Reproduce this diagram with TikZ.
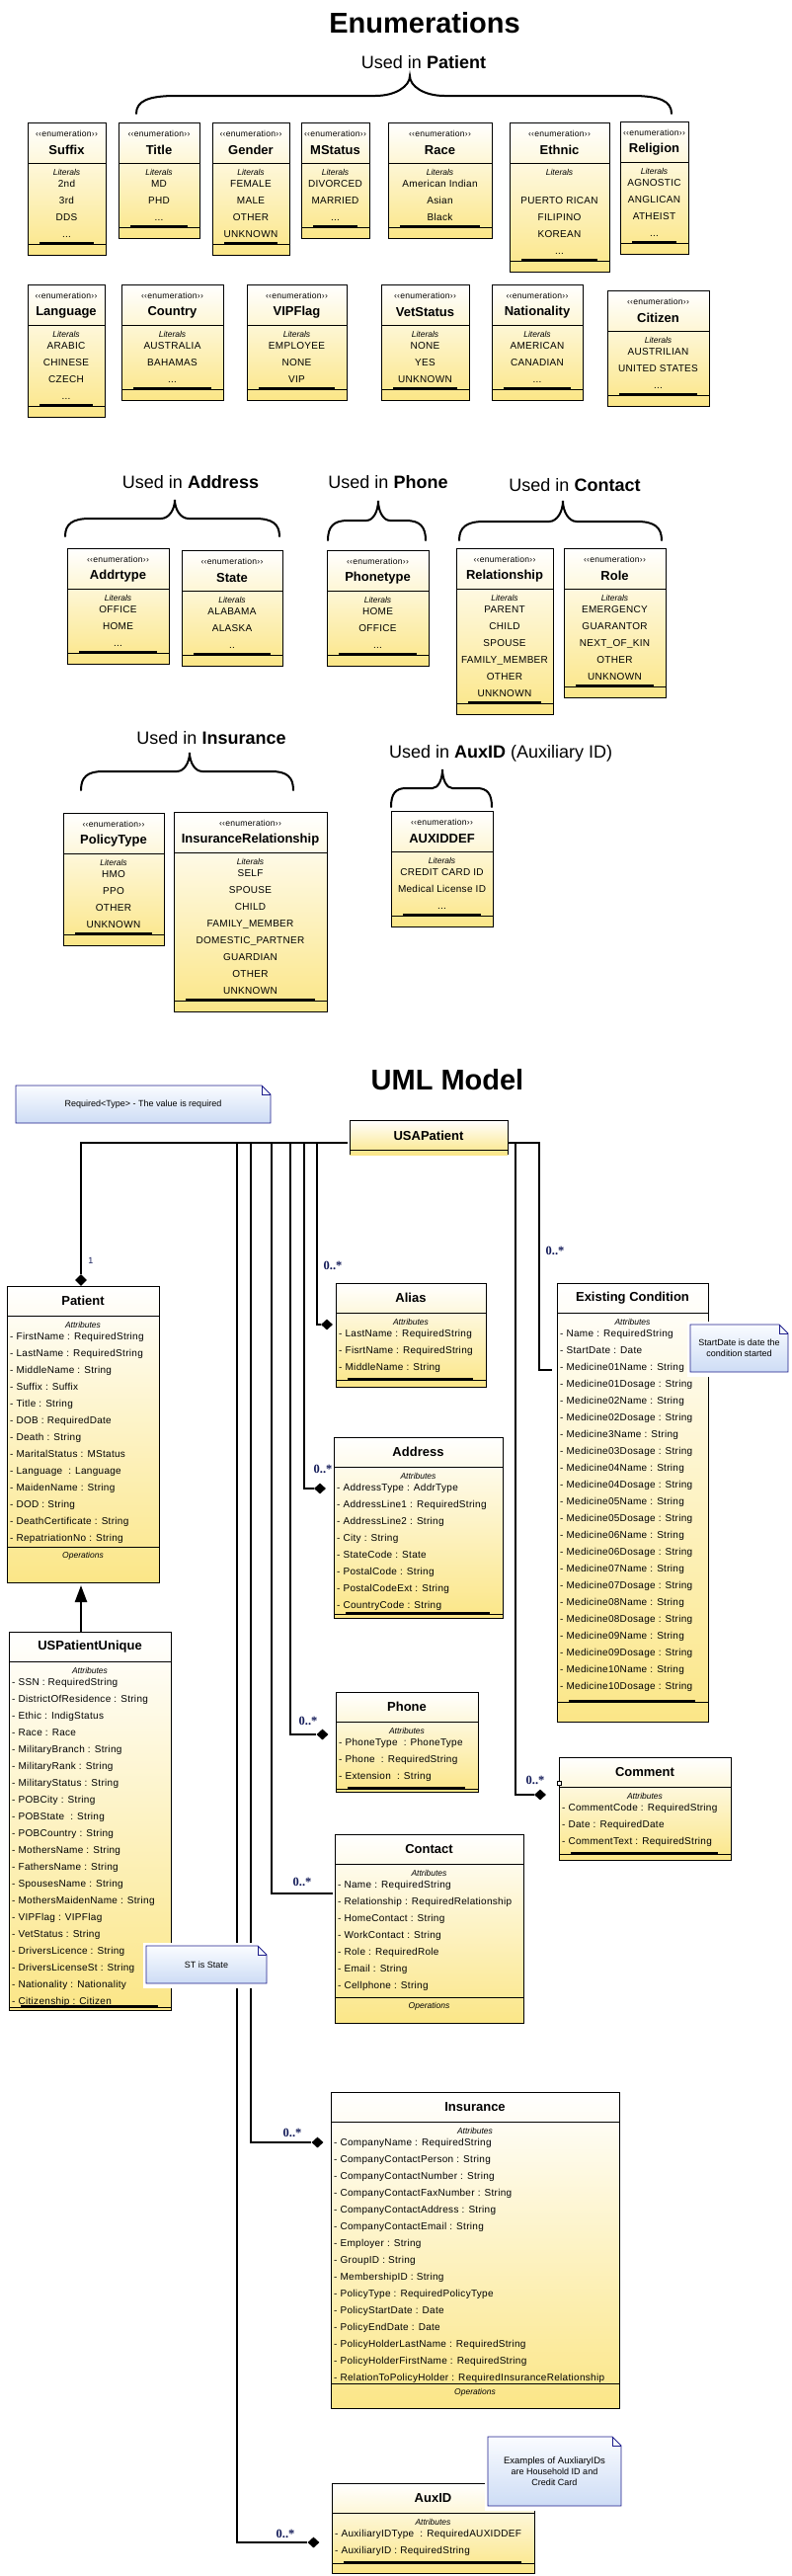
\documentclass[tikz,border=0pt]{standalone}
\usepackage{fontspec}
\setmainfont{Liberation Sans}
\newfontfamily\attrf[LetterSpace=3]{Liberation Sans}
\newfontfamily\multf{Liberation Serif}
\usetikzlibrary{shapes.geometric,arrows.meta}
\definecolor{umly}{RGB}{251,230,135}
\definecolor{notetop}{RGB}{250,252,255}
\definecolor{notebot}{RGB}{205,220,245}
\definecolor{noteline}{RGB}{30,30,140}
\definecolor{multc}{RGB}{20,28,90}
\newcommand\eldots{...}
\newcommand\twodots{..}
\tikzset{
 classbox/.style={draw=black, line width=0.9pt, top color=white, bottom color=umly, inner sep=0pt, outer sep=0pt},
 stereo/.style={font=\attrf\fontsize{8.6}{9}\selectfont, inner sep=0pt},
 cname/.style={font=\fontsize{13}{14}\selectfont\bfseries, inner sep=0pt},
 comp/.style={font=\fontsize{8.5}{9}\selectfont\itshape, inner sep=0pt},
 lit/.style={font=\attrf\fontsize{10}{11}\selectfont, inner sep=0pt},
 attr/.style={font=\attrf\fontsize{10}{11}\selectfont, inner sep=0pt},
 conn/.style={line width=2.4pt},
 diam/.style={diamond, fill=black, inner sep=0pt, minimum width=12pt, minimum height=11pt},
 mult/.style={font=\multf\bfseries\fontsize{12.5}{13}\selectfont, text=multc, inner sep=0pt},
 notetext/.style={font=\fontsize{9}{11}\selectfont, align=center, inner sep=0pt},
 notebody/.style={top color=notetop, bottom color=notebot, draw=noteline, line width=0.9pt},
 bracepath/.style={line width=2pt, line cap=round},
 heading/.style={font=\fontsize{29}{30}\selectfont\bfseries, inner sep=0pt},
 used/.style={font=\fontsize{18}{20}\selectfont, inner sep=0pt},
}
% enumeration box: id, x1, x2, top, name, items
\newcommand\enumbox[6]{%
 \foreach \itm [count=\i] in {#6} {\xdef\ebn{\i}}%
 \pgfmathsetmacro\ebhb{#4+41}%
 \pgfmathsetmacro\ebbar{#4+41+21+17*(\ebn-1)+10}%
 \pgfmathsetmacro\ebbot{\ebbar+11}%
 \pgfmathsetmacro\ebw{#3-#2}%
 \pgfmathsetmacro\ebh{\ebbot-#4}%
 \pgfmathsetmacro\ebxc{(#2+#3)/2}%
 \node[classbox, minimum width=\ebw pt, minimum height=\ebh pt, anchor=north west] (#1) at (#2,#4) {};
 \draw[line width=0.9pt] (#2,\ebhb) -- (#3,\ebhb);
 \draw[line width=0.9pt] (#2,\ebbar) -- (#3,\ebbar);
 \fill ({#2+12},\ebbar) rectangle ({#3-12},{\ebbar-2.5});
 \begin{scope}
  \clip (#2,#4) rectangle (#3,\ebhb);
  \node[stereo] (#1-st) at (\ebxc,{#4+11}) {‹‹enumeration››};
 \end{scope}
 \node[cname] (#1-nm) at (\ebxc,{#4+28}) {#5};
 \node[comp] (#1-lit) at (\ebxc,{\ebhb+9}) {Literals};
 \foreach \itm [count=\i] in {#6} {\node[lit, anchor=base] (#1-\i) at (\ebxc,{\ebhb+21+17*(\i-1)+3.5}) {\itm};}
}
% uml class: id, x1, x2, top, name, items, barY, bottomY, type b|o
\newcommand\umlclass[9]{%
 \pgfmathsetmacro\ucw{#3-#2}%
 \pgfmathsetmacro\uch{#8-#4}%
 \pgfmathsetmacro\uchd{#4+30}%
 \pgfmathsetmacro\ucxc{(#2+#3)/2}%
 \node[classbox, minimum width=\ucw pt, minimum height=\uch pt, anchor=north west] (#1) at (#2,#4) {};
 \draw[line width=0.9pt] (#2,\uchd) -- (#3,\uchd);
 \node[cname] (#1-nm) at (\ucxc,{#4+15}) {#5};
 \node[comp] (#1-att) at (\ucxc,{\uchd+9}) {Attributes};
 \foreach \itm [count=\i] in {#6} {\node[attr, anchor=base west] (#1-\i) at ({#2+3},{\uchd+21+17*(\i-1)+3.5}) {\itm};}
 \draw[line width=0.9pt] (#2,#7) -- (#3,#7);
 \if b#9
  \fill ({#2+12},#7) rectangle ({#3-13},{#7-2.5});
 \else
  \node[comp] (#1-ops) at (\ucxc,{#7+9}) {Operations};
 \fi
}
% note: id, x1, y1, x2, y2, text
\newcommand\notebox[6]{%
 \fill[white] ({#2-3},{#3-3}) rectangle ({#4+3},{#5+5});
 \shadedraw[notebody] (#2,#3) -- ({#4-9},#3) -- (#4,{#3+9}) -- (#4,#5) -- (#2,#5) -- cycle;
 \draw[noteline, line width=0.9pt] ({#4-9},#3) -- ({#4-9},{#3+9}) -- (#4,{#3+9});
 \node[notetext] (#1) at ({(#2+#4)/2},{(#3+#5)/2}) {#6};
}
% brace: x1, x2, tipx, ytop, ytip, yend, curl, tipw
\newcommand\ubrace[8]{%
 \draw[bracepath] (#1,#6) .. controls (#1,{#4+(#6-#4)*0.3}) and ({#1+#7*0.3},#4) .. ({#1+#7},#4)
  -- ({#3-#8},#4) .. controls ({#3-#8*0.4},#4) and (#3,{#4-(#4-#5)*0.5}) .. (#3,#5)
  .. controls (#3,{#4-(#4-#5)*0.5}) and ({#3+#8*0.4},#4) .. ({#3+#8},#4)
  -- ({#2-#7},#4) .. controls ({#2-#7*0.3},#4) and (#2,{#4+(#6-#4)*0.3}) .. (#2,#6);
}
\begin{document}
\begin{tikzpicture}[x=1pt,y=-1pt]
\useasboundingbox (0,0) rectangle (802,2608);
\fill[white] (0,0) rectangle (802,2608);

% ---------------- Enumerations ----------------
\node[heading] (tEnum) at (430,23) {Enumerations};
\node[used] (uPatient) at (429,63) {Used in \textbf{Patient}};
\ubrace{138}{680}{415}{97}{77}{115}{40}{35}

\enumbox{Suffix}{28}{107}{124}{Suffix}{2nd,3rd,DDS,\eldots}
\enumbox{Title}{120}{202}{124}{Title}{MD,PHD,\eldots}
\enumbox{Gender}{215}{293}{124}{Gender}{FEMALE,MALE,OTHER,UNKNOWN}
\enumbox{MStatus}{305}{374}{124}{MStatus}{DIVORCED,MARRIED,\eldots}
\enumbox{Race}{393}{498}{124}{Race}{American Indian,Asian,Black}
\enumbox{Ethnic}{516}{617}{124}{Ethnic}{{},PUERTO RICAN,FILIPINO,KOREAN,\eldots}
\enumbox{Religion}{628}{697}{123}{Religion}{AGNOSTIC,ANGLICAN,ATHEIST,\eldots}

\enumbox{Language}{28}{106}{288}{Language}{ARABIC,CHINESE,CZECH,\eldots}
\enumbox{Country}{123}{226}{288}{Country}{AUSTRALIA,BAHAMAS,\eldots}
\enumbox{VIPFlag}{250}{351}{288}{VIPFlag}{EMPLOYEE,NONE,VIP}
\enumbox{VetStatus}{386}{475}{288}{VetStatus}{NONE,YES,UNKNOWN}
\enumbox{Nationality}{498}{590}{288}{Nationality}{AMERICAN,CANADIAN,\eldots}
\enumbox{Citizen}{615}{718}{294}{Citizen}{AUSTRILIAN,UNITED STATES,\eldots}

\node[used] (uAddress) at (193,488) {Used in \textbf{Address}};
\node[used] (uPhone) at (393,488) {Used in \textbf{Phone}};
\node[used] (uContact) at (582,491) {Used in \textbf{Contact}};
\ubrace{66}{283}{177}{525}{506}{543}{25}{14}
\ubrace{332}{431}{383}{527}{507}{547}{20}{12}
\ubrace{465}{670}{570}{528}{507}{547}{25}{14}

\enumbox{Addrtype}{68}{171}{555}{Addrtype}{OFFICE,HOME,\eldots}
\enumbox{State}{184}{286}{557}{State}{ALABAMA,ALASKA,\twodots}
\enumbox{Phonetype}{331}{434}{557}{Phonetype}{HOME,OFFICE,\eldots}
\enumbox{Relationship}{462}{560}{555}{Relationship}{PARENT,CHILD,SPOUSE,FAMILY\_MEMBER,OTHER,UNKNOWN}
\enumbox{Role}{571}{674}{555}{Role}{EMERGENCY,GUARANTOR,NEXT\_OF\_KIN,OTHER,UNKNOWN}

\node[used] (uInsurance) at (214,747) {Used in \textbf{Insurance}};
\node[used, anchor=west] (uAuxID) at (394,763) {Used in \textbf{AuxID} (Auxiliary ID)};
\ubrace{82}{297}{192}{781}{762}{800}{22}{13}
\ubrace{396}{498}{448}{798}{779}{817}{15}{10}

\enumbox{PolicyType}{64}{166}{823}{PolicyType}{HMO,PPO,OTHER,UNKNOWN}
\enumbox{InsRel}{176}{331}{822}{InsuranceRelationship}{SELF,SPOUSE,CHILD,FAMILY\_MEMBER,DOMESTIC\_PARTNER,GUARDIAN,OTHER,UNKNOWN}
\enumbox{AUXIDDEF}{396}{499}{821}{AUXIDDEF}{CREDIT CARD ID,Medical License ID,\eldots}

% ---------------- UML Model ----------------
\node[heading] (tUML) at (453,1093) {UML Model};
\notebox{nReq}{16}{1099}{274}{1137}{Required<Type> - The value is required}

% USAPatient
\node[classbox, draw=none, minimum width=160pt, minimum height=35pt, anchor=north west] (USAPatient) at (354,1134) {};
\draw[line width=0.9pt] (354,1169) -- (354,1134) -- (514,1134) -- (514,1169);
\draw[line width=0.9pt] (354,1164) -- (514,1164);
\node[cname] (USAPatient-nm) at (434,1150) {USAPatient};

% classes
\umlclass{Patient}{7}{161}{1302}{Patient}{- FirstName : RequiredString,- LastName : RequiredString,- MiddleName : String,- Suffix : Suffix,- Title : String,- DOB : RequiredDate,- Death : String,- MaritalStatus : MStatus,- Language\ \ : Language,- MaidenName : String,- DOD : String,- DeathCertificate : String,- RepatriationNo : String}{1566}{1602}{o}

\umlclass{USPU}{9}{173}{1652}{USPatientUnique}{- SSN : RequiredString,- DistrictOfResidence : String,- Ethic : IndigStatus,- Race : Race,- MilitaryBranch : String,- MilitaryRank : String,- MilitaryStatus : String,- POBCity : String,- POBState\ \ : String,- POBCountry : String,- MothersName : String,- FathersName : String,- SpousesName : String,- MothersMaidenName : String,- VIPFlag : VIPFlag,- VetStatus : String,- DriversLicence : String,- DriversLicenseSt : String,- Nationality : Nationality,- Citizenship : Citizen}{2032}{2035}{b}

\umlclass{Alias}{340}{492}{1299}{Alias}{- LastName : RequiredString,- FisrtName : RequiredString,- MiddleName : String}{1397}{1404}{b}

\umlclass{Address}{338}{509}{1455}{Address}{- AddressType : AddrType,- AddressLine1 : RequiredString,- AddressLine2 : String,- City : String,- StateCode : State,- PostalCode : String,- PostalCodeExt : String,- CountryCode : String}{1634}{1638}{b}

\umlclass{ExCond}{564}{717}{1299}{Existing Condition}{- Name : RequiredString,- StartDate : Date,- Medicine01Name : String,- Medicine01Dosage : String,- Medicine02Name : String,- Medicine02Dosage : String,- Medicine3Name : String,- Medicine03Dosage : String,- Medicine04Name : String,- Medicine04Dosage : String,- Medicine05Name : String,- Medicine05Dosage : String,- Medicine06Name : String,- Medicine06Dosage : String,- Medicine07Name : String,- Medicine07Dosage : String,- Medicine08Name : String,- Medicine08Dosage : String,- Medicine09Name : String,- Medicine09Dosage : String,- Medicine10Name : String,- Medicine10Dosage : String}{1723}{1743}{b}

\umlclass{Phone}{340}{484}{1713}{Phone}{- PhoneType\ \ : PhoneType,- Phone\ \ : RequiredString,- Extension\ \ : String}{1811}{1814}{b}

\umlclass{Comment}{566}{740}{1779}{Comment}{- CommentCode : RequiredString,- Date : RequiredDate,- CommentText : RequiredString}{1877}{1883}{b}
\draw[line width=0.6pt, fill=white] (564.5,1803) rectangle (568.5,1807);

\umlclass{Contact}{339}{530}{1857}{Contact}{- Name : RequiredString,- Relationship : RequiredRelationship,- HomeContact : String,- WorkContact : String,- Role : RequiredRole,- Email : String,- Cellphone : String}{2022}{2048}{o}

\umlclass{Insurance}{335}{627}{2118}{Insurance}{- CompanyName : RequiredString,- CompanyContactPerson : String,- CompanyContactNumber : String,- CompanyContactFaxNumber : String,- CompanyContactAddress : String,- CompanyContactEmail : String,- Employer : String,- GroupID : String,- MembershipID : String,- PolicyType : RequiredPolicyType,- PolicyStartDate : Date,- PolicyEndDate : Date,- PolicyHolderLastName : RequiredString,- PolicyHolderFirstName : RequiredString,- RelationToPolicyHolder : RequiredInsuranceRelationship}{2413}{2438}{o}

\umlclass{AuxID}{336}{541}{2514}{AuxID}{- AuxiliaryIDType\ \ : RequiredAUXIDDEF,- AuxiliaryID : RequiredString}{2595}{2605}{b}

% diamonds
\node[diam, minimum width=12pt, minimum height=12pt] (dPatient) at (82,1296) {};
\node[diam] (dAlias) at (331,1341) {};
\node[diam] (dAddress) at (324,1507) {};
\node[diam] (dPhone) at (326.5,1756) {};
\node[diam] (dComment) at (547,1817) {};
\node[diam] (dInsurance) at (321.5,2169) {};
\node[diam] (dAuxID) at (317.5,2574) {};

% bus taps
\coordinate (busL) at (352,1157);
\coordinate (busR) at (514,1157);
\coordinate (tAlias) at (321,1157);
\coordinate (tAddress) at (308,1157);
\coordinate (tPhone) at (294,1157);
\coordinate (tContact) at (275,1157);
\coordinate (tInsurance) at (254,1157);
\coordinate (tAuxID) at (240,1157);
\coordinate (tComment) at (522,1157);
\coordinate (tExCond) at (546,1157);
\coordinate (eContact) at (337,1917);
\coordinate (eExCond) at (559,1387);

\draw[conn] (busL) -| (dPatient.north);
\draw[conn] (tAlias) |- (dAlias.west);
\draw[conn] (tAddress) |- (dAddress.west);
\draw[conn] (tPhone) |- (dPhone.west);
\draw[conn] (tContact) |- (eContact);
\draw[conn] (tInsurance) |- (dInsurance.west);
\draw[conn] (tAuxID) |- (dAuxID.west);
\draw[conn] (busR) -- (tExCond) |- (eExCond);
\draw[conn] (tComment) |- (dComment.west);

% generalization
\coordinate (genS) at (82,1652);
\coordinate (genE) at (82,1605);
\draw[conn, -{Triangle[length=17pt,width=12pt]}] (genS) -- (genE);

% multiplicities
\node[font=\fontsize{9}{10}\selectfont, text=multc, inner sep=0pt] (m1) at (92,1276) {1};
\node[mult] (mAlias) at (337,1281) {0..*};
\node[mult] (mExCond) at (562,1266) {0..*};
\node[mult] (mAddress) at (327,1487) {0..*};
\node[mult] (mPhone) at (312,1742) {0..*};
\node[mult] (mComment) at (542,1802) {0..*};
\node[mult] (mContact) at (306,1905) {0..*};
\node[mult] (mInsurance) at (296,2159) {0..*};
\node[mult] (mAuxID) at (289,2565) {0..*};

% notes on top
\notebox{nStart}{699}{1341}{798}{1389}{StartDate is date the\\condition started}
\notebox{nST}{148}{1970}{270}{2008}{ST is State}
\notebox{nAux}{494}{2467}{629}{2537}{\fontsize{9.5}{14}\selectfont Examples of AuxliaryIDs\\are Household ID and\\Credit Card}
\end{tikzpicture}
\end{document}
